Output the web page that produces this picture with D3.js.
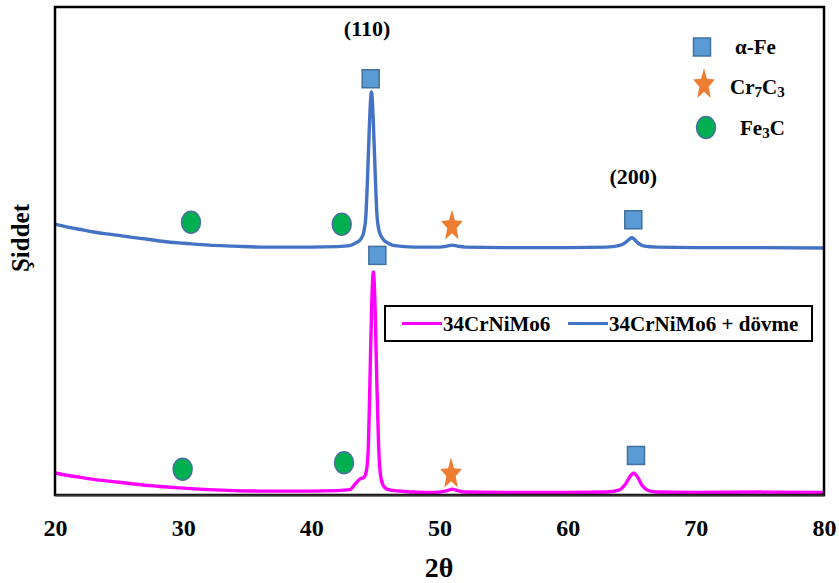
<!DOCTYPE html>
<html>
<head>
<meta charset="utf-8">
<script src="https://cdn.jsdelivr.net/npm/d3@7"></script>
<style>
  html, body { margin: 0; padding: 0; background: #fff; }
  svg { display: block; }
  text { font-family: "Liberation Serif", "Times New Roman", Tinos, "DejaVu Serif", serif; font-weight: bold; fill: #000; }
</style>
</head>
<body>
<svg id="chart" width="839" height="583"></svg>
<script>
// ---------- DATA ----------
// 34CrNiMo6 (magenta) : 2θ and relative intensity (0-100 scale of the plot height)
const plainTheta = [20,21,22,23,24,25,26,27,28,29,30,32,34,36,38,40,42,43,43.4,43.8,44.1,44.3,44.45,44.57,44.7,44.84,44.98,45.11,45.25,45.4,45.6,45.9,46.5,47,48,49,50,50.6,51,51.4,52,55,60,63,64,64.5,64.9,65.15,65.4,65.8,66.3,67,70,75,80];
const plainInt   = [4.5,4.0,3.6,3.2,2.9,2.6,2.3,2.0,1.8,1.6,1.4,1.1,0.9,0.8,0.8,0.8,0.9,1.1,2.2,3.3,3.6,5,10,23,38,45.7,38,23,10,4,2,1.2,0.9,0.8,0.6,0.5,0.6,0.9,1.2,0.9,0.6,0.5,0.5,0.6,1.0,2.2,3.9,4.5,3.9,2.0,0.9,0.6,0.5,0.6,0.5];

// 34CrNiMo6 + dövme (blue)
const forgedTheta = [20,21,22,23,24,25,26,27,28,29,30,32,34,36,38,40,42,43,43.5,43.9,44.1,44.25,44.4,44.55,44.69,44.83,44.98,45.13,45.3,45.55,46,46.5,48,50,50.6,51,51.4,52,55,60,63,64,64.5,64.8,65.0,65.2,65.5,66,67,70,75,80];
const forgedInt   = [55.5,54.9,54.4,53.9,53.5,53.2,52.8,52.5,52.1,51.8,51.6,51.2,51.0,50.8,50.8,50.8,50.9,51.1,51.7,52.6,54,57,66,77,82.6,77,66,57,54,52.6,51.6,51.1,50.8,50.8,51.0,51.2,51.0,50.8,50.7,50.7,50.8,51.1,51.7,52.4,52.7,52.4,51.6,51.0,50.8,50.7,50.7,50.6];

const seriesNames = ["34CrNiMo6", "34CrNiMo6 + dövme"];

// phase markers: phase, 2θ, intensity position
const markerPhase = ["Fe","Fe","Fe","Fe","Fe3C","Fe3C","Fe3C","Fe3C","Cr7C3","Cr7C3"];
const markerTheta = [44.63,45.15,65.12,65.33,30.61,42.37,29.96,42.55,50.97,50.9];
const markerInt   = [85.3,49.1,56.4,8.1,55.9,55.5,5.3,6.6,55.4,4.6];

// peak labels
const peakLabels = ["(110)","(200)"];
const peakTheta  = [44.35,65.12];
const peakInt    = [94.1,63.8];

const xTicks = [20,30,40,50,60,70,80];

// ---------- LAYOUT ----------
const FONT = '"Liberation Serif", "Times New Roman", Tinos, "DejaVu Serif", serif';
const svg = d3.select("#chart");
const L = 55, R = 824, T = 7, B = 495;
const x = d3.scaleLinear().domain([20,80]).range([L,R]);
const y = d3.scaleLinear().domain([0,100]).range([B,T]);

const colMag = "#ff00ff", colBlue = "#4472c4";
const sqFill = "#5b9bd5", sqStroke = "#41719c";
const circFill = "#00b050", starFill = "#ed7d31";

// ---------- LINES ----------
const line = d3.line().x(d => x(d[0])).y(d => y(d[1])).curve(d3.curveMonotoneX);
const plainData = plainTheta.map((t,i) => [t, plainInt[i]]);
const forgedData = forgedTheta.map((t,i) => [t, forgedInt[i]]);

svg.append("path").datum(forgedData).attr("d", line)
  .attr("fill","none").attr("stroke", colBlue).attr("stroke-width", 3.4).attr("stroke-linejoin","round");
svg.append("path").datum(plainData).attr("d", line)
  .attr("fill","none").attr("stroke", colMag).attr("stroke-width", 3.4).attr("stroke-linejoin","round");

// ---------- FRAME ----------
svg.append("rect").attr("x", L).attr("y", T).attr("width", R-L).attr("height", B-T)
  .attr("fill","none").attr("stroke","#000").attr("stroke-width",2.5);

// x axis via d3 axis
const xAxis = d3.axisBottom(x).tickValues(xTicks).tickSize(0).tickPadding(34).tickFormat(d3.format("d"));
const gx = svg.append("g").attr("transform", `translate(0,${B})`).call(xAxis);
gx.select(".domain").attr("stroke","#333").attr("stroke-width",2);
gx.selectAll("text").style("font-family", FONT)
  .style("font-weight","bold").style("font-size","24px").attr("fill","#000").attr("dy","0.3em");

svg.append("text").attr("x", 439).attr("y", 577).attr("text-anchor","middle")
  .style("font-size","28px").text("2θ");
svg.append("text").attr("transform","translate(29,238) rotate(-90)").attr("text-anchor","middle")
  .style("font-size","25px").text("Şiddet");

// ---------- MARKERS ----------
function starPath(Ro, Ri) {
  const pts = [];
  for (let i = 0; i < 10; i++) {
    const r = i % 2 === 0 ? Ro : Ri;
    const a = -Math.PI/2 + i*Math.PI/5;
    pts.push([r*Math.cos(a), r*Math.sin(a)]);
  }
  return "M" + pts.map(p => p.join(",")).join("L") + "Z";
}
function drawMarker(g, phase, cx, cy) {
  if (phase === "Fe") {
    g.append("rect").attr("x", cx-8.5).attr("y", cy-9).attr("width",17).attr("height",18)
      .attr("fill", sqFill).attr("stroke", sqStroke).attr("stroke-width",1.5);
  } else if (phase === "Fe3C") {
    g.append("ellipse").attr("cx", cx).attr("cy", cy).attr("rx", 9.5).attr("ry", 11)
      .attr("fill", circFill).attr("stroke", "#4a6fa0").attr("stroke-width",1.5);
  } else {
    g.append("path").attr("d", starPath(12, 5.2))
      .attr("transform", `translate(${cx},${cy+1.5}) scale(0.95,1.38)`)
      .attr("fill", starFill);
  }
}
const gm = svg.append("g");
markerPhase.forEach((p,i) => drawMarker(gm, p, x(markerTheta[i]), y(markerInt[i])));

// peak labels
peakLabels.forEach((t,i) => {
  svg.append("text").attr("x", x(peakTheta[i])).attr("y", y(peakInt[i])).attr("text-anchor","middle")
    .style("font-size","22px").text(t);
});

// ---------- PHASE LEGEND ----------
const legPhases = ["Fe","Cr7C3","Fe3C"];
const legPos = [[702,47],[704,83],[706,127.5]];
legPhases.forEach((p,i) => drawMarker(svg, p, legPos[i][0], legPos[i][1]));
svg.append("text").attr("x",735).attr("y",54).style("font-size","21px").text("α-Fe");
const t2 = svg.append("text").attr("x",730).attr("y",94).style("font-size","21px");
t2.append("tspan").text("Cr");
t2.append("tspan").attr("dy",3).style("font-size","15px").text("7");
t2.append("tspan").attr("dy",-3).text("C");
t2.append("tspan").attr("dy",3).style("font-size","15px").text("3");
const t3 = svg.append("text").attr("x",740).attr("y",135).style("font-size","21px");
t3.append("tspan").text("Fe");
t3.append("tspan").attr("dy",3).style("font-size","15px").text("3");
t3.append("tspan").attr("dy",-3).text("C");

// ---------- LINE LEGEND ----------
svg.append("rect").attr("x",385).attr("y",306).attr("width",427).attr("height",35)
  .attr("fill","#fff").attr("stroke","#000").attr("stroke-width",2);
const legCols = [colMag, colBlue];
const legX = [402, 568];
seriesNames.forEach((n,i) => {
  svg.append("line").attr("x1",legX[i]).attr("x2",legX[i]+40).attr("y1",323.5).attr("y2",323.5)
    .attr("stroke", legCols[i]).attr("stroke-width",3);
  svg.append("text").attr("x",legX[i]+41).attr("y",331).style("font-size","21px").text(n);
});
</script>
</body>
</html>
